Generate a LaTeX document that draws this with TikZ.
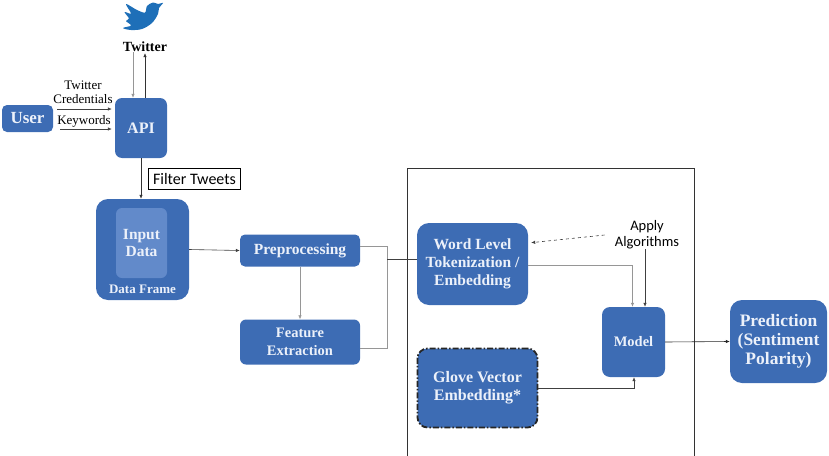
\documentclass[tikz,border=0pt]{standalone}
\usepackage{fontspec}
\setmainfont{Liberation Serif}
\newfontfamily\calib{Carlito}
\usetikzlibrary{arrows.meta,calc}
\definecolor{boxblue}{RGB}{61,108,180}
\definecolor{innerblue}{RGB}{98,138,202}
\definecolor{twblue}{RGB}{30,111,184}
\definecolor{txtw}{RGB}{236,241,250}
\definecolor{lgray}{RGB}{150,150,150}
\tikzset{
  blk/.style={fill=boxblue, rounded corners=#1, text=txtw, align=center, inner sep=2pt, font=\bfseries},
  blk/.default=6pt,
  arr/.style={-{Latex[length=4pt,width=3.5pt]}, line width=0.6pt},
  gline/.style={draw=lgray, line width=0.7pt},
  dline/.style={draw=black!75, line width=0.6pt},
  lab/.style={align=center, inner sep=0pt},
}
\begin{document}
\begin{tikzpicture}[x=1pt,y=-1pt]
\useasboundingbox (0,0) rectangle (829,455);
% twitter bird
\fill[twblue] plot[smooth cycle, tension=0.55] coordinates {(163,3) (159,8) (158,14) (152,23) (142,29) (131,30) (123,28) (131,25.5) (126,21) (129,18.5) (124.5,12) (131,13.5) (126,4) (137,10) (145,12.5) (147,6) (153,2.5) (158,4)};
\node[lab, font=\bfseries\fontsize{14}{16}\selectfont] (tw) at (145,47) {Twitter};
% nodes
\node[blk=5pt, minimum width=51pt, minimum height=27pt, font=\bfseries\fontsize{17}{19}\selectfont] (user) at (27.5,118.5) {User};
\node[blk=7pt, minimum width=52pt, minimum height=60pt, font=\bfseries\fontsize{16}{18}\selectfont] (api) at (141,128) {API};
\node[draw=black, fill=white, line width=0.6pt, minimum width=92pt, minimum height=21pt, inner sep=1pt, font=\calib\fontsize{16}{18}\selectfont] (ft) at (194.5,179) {Filter Tweets};
\node[blk=12pt, minimum width=93pt, minimum height=101pt] (df) at (142.5,249.5) {};
\node[fill=innerblue, rounded corners=6pt, minimum width=51pt, minimum height=70pt, inner sep=0pt] (inner) at (141.5,243) {};
\node[lab, text=txtw, font=\bfseries\fontsize{15.5}{17}\selectfont] (intxt) at (141.5,243) {Input\\Data};
\node[lab, text=txtw, font=\bfseries\fontsize{13}{15}\selectfont] (dftxt) at (142.5,289) {Data Frame};
\node[blk=5pt, minimum width=120pt, minimum height=32pt, font=\bfseries\fontsize{15.5}{17}\selectfont] (prep) at (300,250.5) {Preprocessing};
\node[blk=6pt, minimum width=120pt, minimum height=45pt, font=\bfseries\fontsize{14.5}{18.5}\selectfont] (feat) at (300,342) {Feature\\Extraction};
% big container
\node[draw=black!80, line width=0.7pt, minimum width=287pt, minimum height=300pt, inner sep=0pt, anchor=north west] (cont) at (407,168) {};
\node[blk=12pt, minimum width=111pt, minimum height=82pt, font=\bfseries\fontsize{15.5}{18}\selectfont] (wl) at (472.5,264) {Word Level\\Tokenization /\\Embedding};
\node[blk=10pt, draw=black!85, line width=1.8pt, dash pattern=on 6pt off 2pt on 1.5pt off 2pt, minimum width=120pt, minimum height=79pt, font=\bfseries\fontsize{16}{18}\selectfont] (gl) at (477.5,388) {Glove Vector\\Embedding*};
\node[blk=8pt, minimum width=63pt, minimum height=70pt, font=\bfseries\fontsize{14.5}{17}\selectfont] (model) at (633.5,342) {Model};
\node[blk=12pt, minimum width=97pt, minimum height=83pt, font=\bfseries\fontsize{17.5}{19}\selectfont] (pred) at (778.5,341.5) {Prediction\\(Sentiment\\Polarity)};
\node[lab, font=\calib\fontsize{14.5}{16}\selectfont] (apply) at (647,235) {Apply\\Algorithms};
% labels
\node[lab, font=\fontsize{13}{14}\selectfont] (cred) at (83,92) {Twitter\\Credentials};
\node[lab, font=\fontsize{13}{14}\selectfont] (kw) at (84,121) {Keywords};
% connectors
\coordinate (y1) at (0,109);
\coordinate (y2) at (0,129);
\draw[arr, draw=lgray] ([xshift=-8pt]api.north |- tw.south) -- ([xshift=-8pt]api.north);
\draw[arr, black!80] ([xshift=4pt]api.north) -- ([xshift=4pt,yshift=-1pt]api.north |- tw.south);
\draw[arr, black!75, shorten >=3pt] ([xshift=4pt]user.east |- y1) -- (api.west |- y1);
\draw[arr, black!75, shorten >=3pt] ([xshift=7pt]user.east |- y2) -- (api.west |- y2);
\draw[arr, black!80] (api.south) -- (api.south |- df.north);
\draw[arr, black!75] (df.east) -- (prep.west);
\draw[arr, draw=lgray] (prep.south) -- (feat.north);
\coordinate (jn) at (387,259);
\draw[gline] ([yshift=4pt]prep.east) -| (jn);
\draw[gline] (jn) |- ([yshift=-6pt]feat.east);
\draw[dline] (jn) -- (wl.west |- jn);
\draw[arr, dashed, black!75, shorten >=3pt] ([xshift=-10pt]apply.west) -- ([yshift=21pt]wl.east);
\draw[arr, draw=lgray] ([yshift=-1pt]wl.east) -| ([xshift=-1pt]model.north);
\draw[arr, black!75] ([xshift=11.5pt]model.north |- apply.south) -- ([xshift=11.5pt]model.north);
\draw[arr, black!75] (gl.east) -| ([xshift=0.5pt]model.south);
\draw[arr, black!85] (model.east) -- (pred.west);
\end{tikzpicture}
\end{document}
